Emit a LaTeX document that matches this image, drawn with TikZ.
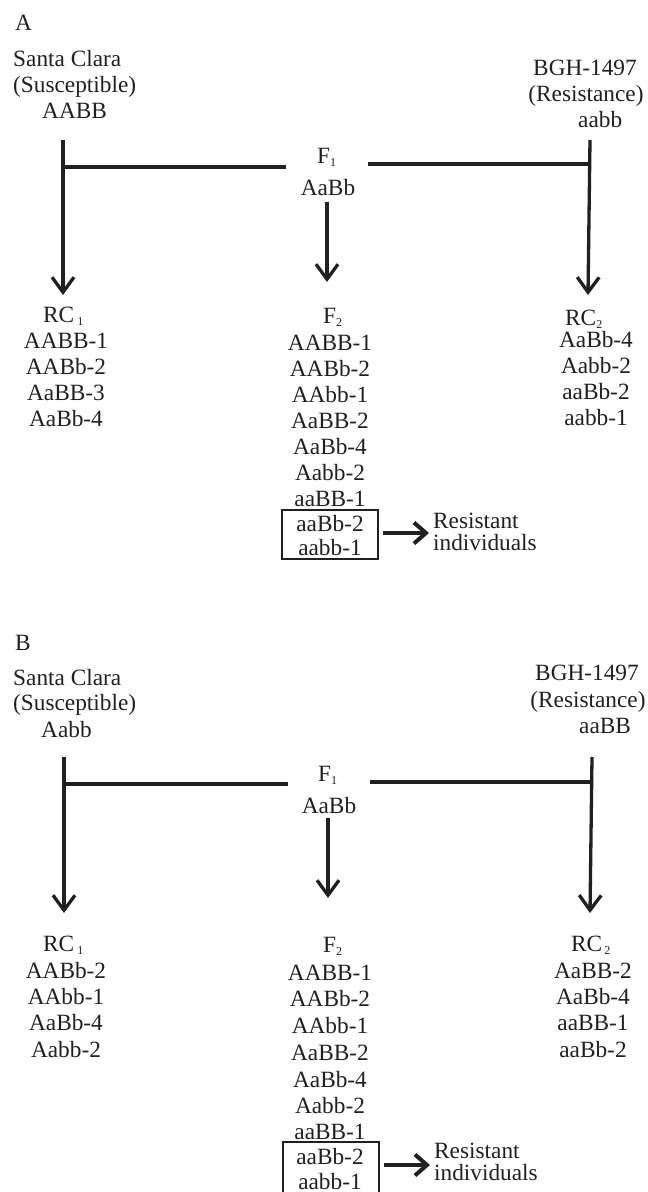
\documentclass[tikz,border=0pt]{standalone}
\usepackage{fontspec}
\setmainfont{Liberation Serif}
\usetikzlibrary{arrows.meta}
\definecolor{ink}{HTML}{231F20}
\newcommand{\sbx}[1]{\raisebox{-3pt}{\fontsize{12}{12}\selectfont #1}}
\begin{document}
\begin{tikzpicture}[x=1pt,y=-1pt,
  every node/.style={inner sep=0pt, text=ink, font=\fontsize{23.3}{26}\selectfont},
  txt/.style={anchor=base},
  txl/.style={anchor=base west},
  ln/.style={draw=ink, line width=3.3pt},
  arr/.style={draw=ink, line width=3.3pt, -{Straight Barb[length=15pt,width=22pt]}},
  rarr/.style={draw=ink, line width=4pt, -{Straight Barb[length=12pt,width=21pt]}},
  bx/.style={draw=ink, line width=2pt}]
\useasboundingbox (0,0) rectangle (648,1192);
\fill[white] (0,0) rectangle (648,1192);

% ================= Panel A =================
\node[txl] (Alab) at (15,30) {A};
\node[txl] (a1) at (13,66) {Santa Clara};
\node[txl] (a2) at (13,92) {(Susceptible)};
\node[txl] (a3) at (42,118) {AABB};
\node[txt] (b1) at (585,75) {BGH-1497};
\node[txt] (b2) at (586,101) {(Resistance)};
\node[txl] (b3) at (578,127) {aabb};
\node[txl] (f1A) at (317,163) {F\sbx{1}};
\node[txt] (f1gA) at (328,195) {AaBb};

\coordinate (LtA) at (63,140);
\coordinate (LmA) at (63,167);
\coordinate (LbA) at (63,295);
\coordinate (LhA) at (286,167);
\coordinate (RhA) at (368,164);
\coordinate (RmA) at (590,164);
\coordinate (RtA) at (590,140);
\coordinate (RbA) at (588,295);
\coordinate (MtA) at (327,202);
\coordinate (MbA) at (327,282);
\draw[arr] (LtA) -- (LbA);
\draw[ln] (LmA) -- (LhA);
\draw[ln] (RhA) -- (RmA);
\draw[arr] (RtA) -- (RbA);
\draw[arr] (MtA) -- (MbA);

% RC1
\node[txl] (rc1A) at (43,322) {RC\hspace{3pt}\sbx{1}};
\node[txt] (rc1A1) at (66,348) {AABB-1};
\node[txt] (rc1A2) at (66,374) {AABb-2};
\node[txt] (rc1A3) at (66,400) {AaBB-3};
\node[txt] (rc1A4) at (66,426) {AaBb-4};

% F2
\node[txl] (f2A) at (323,323) {F\sbx{2}};
\node[txt] (f2A1) at (330,350) {AABB-1};
\node[txt] (f2A2) at (330,376) {AABb-2};
\node[txt] (f2A3) at (330,402) {AAbb-1};
\node[txt] (f2A4) at (330,428) {AaBB-2};
\node[txt] (f2A5) at (330,454) {AaBb-4};
\node[txt] (f2A6) at (330,480) {Aabb-2};
\node[txt] (f2A7) at (330,506) {aaBB-1};
\node[txt] (f2A8) at (330,531) {aaBb-2};
\node[txt] (f2A9) at (330,555) {aabb-1};
\coordinate (boxA1) at (282,510);
\coordinate (boxA2) at (378,559);
\draw[bx] (boxA1) rectangle (boxA2);
\coordinate (raA1) at (383,533);
\coordinate (raA2) at (429,533);
\draw[rarr] (raA1) -- (raA2);
\node[txl] (resA1) at (433,528) {Resistant};
\node[txl] (resA2) at (433,550) {individuals};

% RC2
\node[txl] (rc2A) at (565,325) {RC\sbx{2}};
\node[txt] (rc2A1) at (596,347) {AaBb-4};
\node[txt] (rc2A2) at (596,373) {Aabb-2};
\node[txt] (rc2A3) at (596,399) {aaBb-2};
\node[txt] (rc2A4) at (596,425) {aabb-1};

% ================= Panel B =================
\node[txl] (Blab) at (15,650) {B};
\node[txl] (c1) at (13,685) {Santa Clara};
\node[txl] (c2) at (13,710) {(Susceptible)};
\node[txl] (c3) at (41,737) {Aabb};
\node[txt] (d1) at (587,680) {BGH-1497};
\node[txt] (d2) at (588,707) {(Resistance)};
\node[txl] (d3) at (579,733) {aaBB};
\node[txl] (f1B) at (318,781) {F\sbx{1}};
\node[txt] (f1gB) at (329,813) {AaBb};

\coordinate (LtB) at (64,757);
\coordinate (LmB) at (64,784);
\coordinate (LbB) at (64,913);
\coordinate (LhB) at (288,784);
\coordinate (RhB) at (370,782);
\coordinate (RmB) at (592,782);
\coordinate (RtB) at (592,757);
\coordinate (RbB) at (590,913);
\coordinate (MtB) at (328,818);
\coordinate (MbB) at (328,898);
\draw[arr] (LtB) -- (LbB);
\draw[ln] (LmB) -- (LhB);
\draw[ln] (RhB) -- (RmB);
\draw[arr] (RtB) -- (RbB);
\draw[arr] (MtB) -- (MbB);

% RC1
\node[txl] (rc1B) at (43,951) {RC\hspace{3pt}\sbx{1}};
\node[txt] (rc1B1) at (66,978) {AABb-2};
\node[txt] (rc1B2) at (66,1004) {AAbb-1};
\node[txt] (rc1B3) at (66,1030) {AaBb-4};
\node[txt] (rc1B4) at (66,1057) {Aabb-2};

% F2
\node[txl] (f2B) at (323,952) {F\sbx{2}};
\node[txt] (f2B1) at (330,980) {AABB-1};
\node[txt] (f2B2) at (330,1006) {AABb-2};
\node[txt] (f2B3) at (330,1033) {AAbb-1};
\node[txt] (f2B4) at (330,1060) {AaBB-2};
\node[txt] (f2B5) at (330,1087) {AaBb-4};
\node[txt] (f2B6) at (330,1113) {Aabb-2};
\node[txt] (f2B7) at (330,1139) {aaBB-1};
\node[txt] (f2B8) at (330,1164) {aaBb-2};
\node[txt] (f2B9) at (330,1189) {aabb-1};
\coordinate (boxB1) at (283,1142);
\coordinate (boxB2) at (379,1205);
\draw[bx] (boxB1) rectangle (boxB2);
\coordinate (raB1) at (384,1165);
\coordinate (raB2) at (430,1165);
\draw[rarr] (raB1) -- (raB2);
\node[txl] (resB1) at (434,1158) {Resistant};
\node[txl] (resB2) at (434,1180) {individuals};

% RC2
\node[txl] (rc2B) at (571,951) {RC\hspace{2pt}\sbx{2}};
\node[txt] (rc2B1) at (593,978) {AaBB-2};
\node[txt] (rc2B2) at (593,1004) {AaBb-4};
\node[txt] (rc2B3) at (593,1030) {aaBB-1};
\node[txt] (rc2B4) at (593,1057) {aaBb-2};
\end{tikzpicture}
\end{document}
